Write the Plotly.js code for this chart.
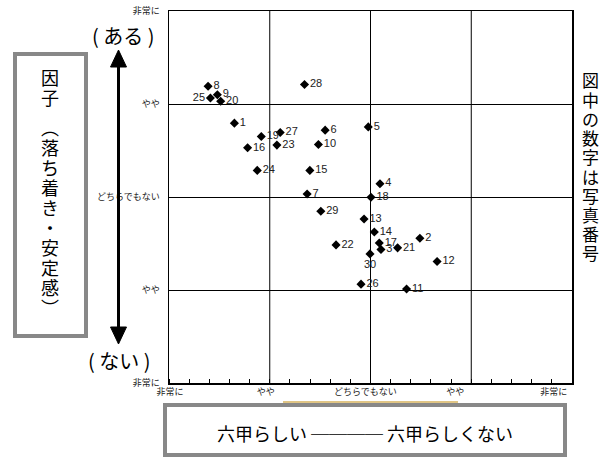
<!DOCTYPE html>
<html>
<head>
<meta charset="utf-8">
<script src="https://cdn.plot.ly/plotly-3.0.1.min.js"></script>
<style>html,body{margin:0;padding:0;background:#fff;}#chart{width:611px;height:459px;}</style>
</head>
<body>
<div id="chart"></div>
<script>
// ---- data ----
const photoIds = [1,2,3,4,5,6,7,8,9,10,11,12,13,14,15,16,17,18,19,20,21,22,23,24,25,26,27,28,29,30];
const scoreX = [-1.351,0.49,0.104,0.094,-0.022,-0.450,-0.629,-1.612,-1.52,-0.517,0.358,0.661,-0.064,0.038,-0.602,-1.22,0.087,0.005,-1.084,-1.487,0.269,-0.342,-0.929,-1.124,-1.589,-0.094,-0.896,-0.655,-0.493,-0.005];
const scoreY = [0.794,-0.443,-0.565,0.143,0.754,0.719,0.032,1.191,1.10,0.565,-0.990,-0.694,-0.236,-0.376,0.286,0.529,-0.494,-0.003,0.651,1.03,-0.547,-0.515,0.558,0.286,1.065,-0.937,0.694,1.209,-0.154,-0.612];
const scaleLabels = ['非常に','やや','どちらでもない','やや','非常に'];
const yTickVals = [-2,-1,0,1,2];
const xTickVals = [-1.99,-1.04,-0.05,0.84,1.82];
const gridVals = [-1,0,1];

const labelPos = photoIds.map(id => id===25 ? 'middle left' : (id===30 ? 'bottom center' : 'middle right'));

// ---- layout helpers (pixel -> paper) ----
const L=169, R=39, T=11, B=76, W=611, H=459;
const pw=W-L-R, ph=H-T-B;
const px = x => (x-L)/pw;
const py = y => (H-B-y)/ph;

const cjk = 'Noto Sans CJK JP';
const annotations = [];
function vtext(str, cx, y0, step, size){
  Array.from(str).forEach((ch,i)=>{
    annotations.push({xref:'paper',yref:'paper',x:px(cx),y:py(y0+i*step),text:ch,showarrow:false,
      xanchor:'center',yanchor:'middle',font:{family:cjk,size:size,color:'#000'}});
  });
}
vtext('図中の数字は写真番号', 590, 80, 19.2, 17);
vtext('因子', 50, 77, 20, 18);
vtext('︵落ち着き・安定感︶', 50, 127, 20, 18);
annotations.push({xref:'paper',yref:'paper',x:px(123),y:py(35),text:'( ある )',showarrow:false,xanchor:'center',yanchor:'middle',font:{family:cjk,size:20,color:'#000'}});
annotations.push({xref:'paper',yref:'paper',x:px(119),y:py(360),text:'( ない )',showarrow:false,xanchor:'center',yanchor:'middle',font:{family:cjk,size:20,color:'#000'}});
annotations.push({xref:'paper',yref:'paper',x:px(365),y:py(433),text:'六甲らしい ──── 六甲らしくない',showarrow:false,xanchor:'center',yanchor:'middle',font:{family:cjk,size:18,color:'#000'}});

const shapes = [];
gridVals.forEach(v=>shapes.push({type:'line',xref:'x',yref:'paper',x0:v,x1:v,y0:0,y1:1,line:{color:'#000',width:1},layer:'below'}));
shapes.push({type:'rect',xref:'paper',yref:'paper',x0:px(15),x1:px(86),y0:py(336),y1:py(54),line:{color:'#888',width:4}});
shapes.push({type:'rect',xref:'paper',yref:'paper',x0:px(165),x1:px(565),y0:py(455),y1:py(405),line:{color:'#888',width:4}});
shapes.push({type:'line',xref:'paper',yref:'paper',x0:px(283),x1:px(458),y0:py(402),y1:py(402),line:{color:'#d6b25c',width:1.5}});
shapes.push({type:'line',xref:'paper',yref:'paper',x0:px(118.5),x1:px(118.5),y0:py(64),y1:py(330),line:{color:'#000',width:3}});
shapes.push({type:'path',xref:'paper',yref:'paper',path:`M ${px(110.5)} ${py(67)} L ${px(118.5)} ${py(50)} L ${px(126.5)} ${py(67)} Z`,fillcolor:'#000',line:{color:'#000',width:1}});
shapes.push({type:'path',xref:'paper',yref:'paper',path:`M ${px(110.5)} ${py(327)} L ${px(118.5)} ${py(344)} L ${px(126.5)} ${py(327)} Z`,fillcolor:'#000',line:{color:'#000',width:1}});

const trace = {
  type:'scatter', mode:'markers+text',
  x:scoreX, y:scoreY, text:photoIds.map(String), textposition:labelPos,
  marker:{symbol:'diamond',size:7,color:'#000'},
  textfont:{family:'Liberation Sans, Arial, sans-serif',size:11,color:'#222'},
  cliponaxis:false, hoverinfo:'none'
};

const layout = {
  width:W, height:H, margin:{l:L,r:R,t:T,b:B,pad:0},
  paper_bgcolor:'#fff', plot_bgcolor:'#fff', showlegend:false,
  font:{family:cjk,size:9,color:'#222'},
  xaxis:{range:[-2,2],showgrid:false,zeroline:false,showline:true,mirror:true,linecolor:'#000',linewidth:1.5,
    tickmode:'array',tickvals:xTickVals,ticktext:scaleLabels,ticks:'',tickfont:{family:cjk,size:9,color:'#222'},
    minor:{tickmode:'linear',tick0:-2,dtick:0.2,ticks:'inside',ticklen:4,tickcolor:'#000',tickwidth:1,showgrid:false},
    fixedrange:true},
  yaxis:{range:[-2,2],tickmode:'array',tickvals:yTickVals,ticktext:scaleLabels,showgrid:true,gridcolor:'#000',gridwidth:1,
    zeroline:false,showline:true,mirror:true,linecolor:'#000',linewidth:1.5,ticks:'',ticklabelstandoff:6,
    tickfont:{family:cjk,size:9,color:'#222'},fixedrange:true},
  shapes:shapes, annotations:annotations
};

Plotly.newPlot('chart',[trace],layout,{displayModeBar:false,staticPlot:true});
</script>
</body>
</html>
